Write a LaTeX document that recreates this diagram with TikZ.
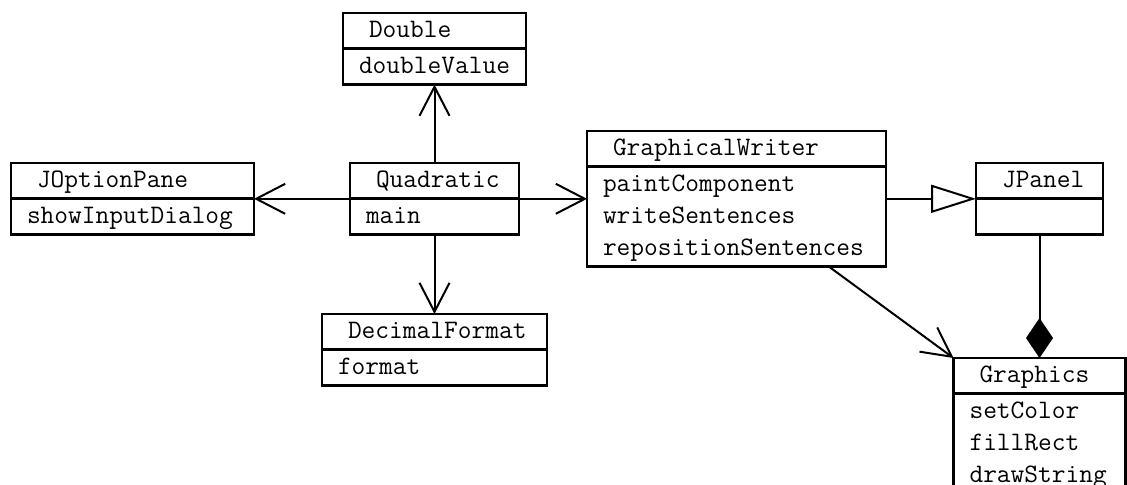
\documentclass[tikz,border=0pt]{standalone}
\usepackage{fontspec}
\usetikzlibrary{arrows.meta,shapes.multipart}
\newcommand{\umlfont}{\fontsize{13.33}{16}\selectfont\ttfamily}
\newcommand{\umltitle}[1]{\umlfont\centering\hspace*{5pt}#1\strut}

\tikzset{
	umlclass/.style={draw, line width=1.4pt, rectangle split, rectangle split parts=2,
		anchor=north west, inner xsep=8pt, inner ysep=0.25pt, outer sep=0pt, align=left,
		font=\umlfont},
	uses/.style={line width=1pt, -{Straight Barb[length=14.5pt,width=15pt]}},
	extends/.style={line width=1pt, -{Triangle[open,length=22.5pt,width=14pt]}},
	owns/.style={line width=1pt, -{Diamond[length=20pt,width=13.5pt]}}
}

\begin{document}
\begin{tikzpicture}[x=0.5pt,y=-0.5pt]
		%%%%% CLASSES %%%%%
		\useasboundingbox (0,0) rectangle (1127,484);
		
		\node[umlclass, text width=75.5pt] (double) at (343,13) {\umltitle{Double}\nodepart{two}\umlfont\strut doubleValue};
		\node[umlclass, text width=105.5pt] (optionpane) at (11,163) {\umltitle{JOptionPane}\nodepart{two}\umlfont\strut showInputDialog};
		\node[umlclass, text width=68.5pt] (quadratic) at (350,163) {\umltitle{Quadratic}\nodepart{two}\umlfont\strut main};
		\node[umlclass, text width=96.5pt] (decimalformat) at (322,314) {\umltitle{DecimalFormat}\nodepart{two}\umlfont\strut format};
		
		\node[umlclass, text width=133.5pt] (writer) at (587,131) {\umltitle{GraphicalWriter}\nodepart{two}\umlfont\strut paintComponent\\\strut writeSentences\\\strut repositionSentences};
		\node[umlclass, text width=47.5pt] (panel) at (976,163) {\umltitle{JPanel}\nodepart{two}\umlfont\strut};
		\node[umlclass, text width=70pt] (graphics) at (953.5,358) {\umltitle{Graphics}\nodepart{two}\umlfont\strut setColor\\\strut fillRect\\\strut drawString};
		
		%%%%% RELATIONS %%%%%
		\draw[uses] (quadratic) -- (double);
		\draw[uses] (quadratic) -- (optionpane);
		\draw[uses] (quadratic) -- (writer);
		\draw[uses] (quadratic) -- (decimalformat);
		\draw[uses] (writer) -- (graphics.north west);
		\draw[extends] (writer) -- (panel);
		\draw[owns] (panel.south) -- (graphics.north);
		
\end{tikzpicture}
\end{document}
